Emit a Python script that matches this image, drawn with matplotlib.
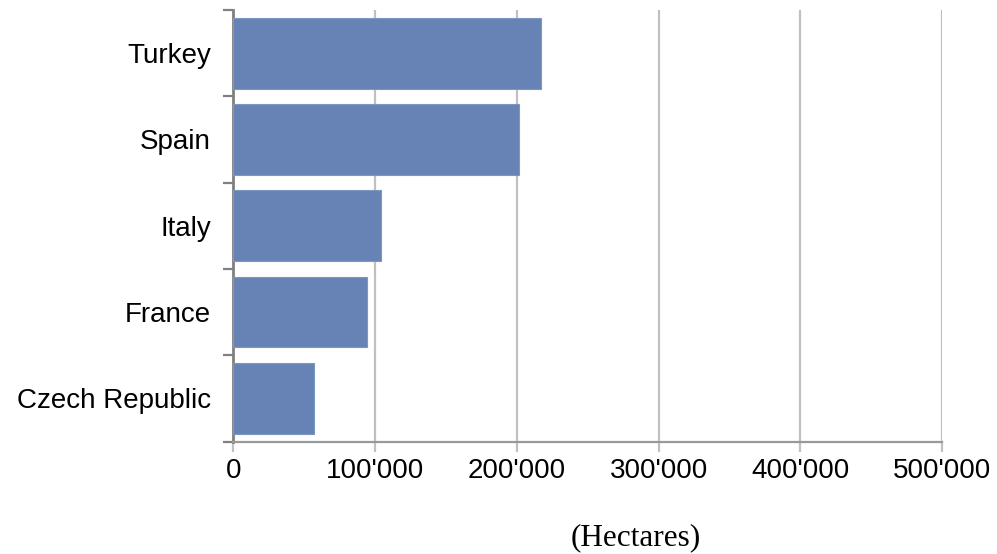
import matplotlib
matplotlib.use("Agg")
import matplotlib.pyplot as plt
from matplotlib.ticker import FuncFormatter, FixedLocator
import numpy as np

countries = ["Czech Republic", "France", "Italy", "Spain", "Turkey"]
hectares = [57000, 94000, 104500, 201500, 217000]
xticks = [0, 100000, 200000, 300000, 400000, 500000]

plt.rcParams['font.family'] = ['Liberation Sans', 'DejaVu Sans']

fig = plt.figure(figsize=(9.97, 5.54), dpi=100)
ax = fig.add_axes([0.234, 0.203, 0.711, 0.779])

y = np.arange(len(countries))
ax.barh(y, hectares, height=0.82, color='#6782b4', edgecolor='#7f96c2', linewidth=0.8, zorder=3)

ax.set_xlim(0, 500000)
ax.set_ylim(-0.5, len(countries) - 0.5)
ax.set_xticks(xticks)
ax.xaxis.set_major_formatter(FuncFormatter(lambda v, p: f"{int(v):,}".replace(",", "'")))
ax.set_yticks(y)
ax.set_yticklabels(countries)
ax.yaxis.set_minor_locator(FixedLocator(np.arange(-0.5, len(countries), 1.0)))

ax.grid(axis='x', color='#c0c0c0', linewidth=1.6, zorder=0)
ax.tick_params(axis='x', length=7, width=1.6, color='#c0c0c0', labelsize=20, pad=5)
ax.tick_params(axis='y', which='major', length=0, labelsize=20, pad=16)
ax.tick_params(axis='y', which='minor', length=7, width=1.6, color='#808080')

for s in ['top', 'right']:
    ax.spines[s].set_visible(False)
ax.spines['left'].set_color('#808080')
ax.spines['left'].set_linewidth(2)
ax.spines['bottom'].set_color('#999999')
ax.spines['bottom'].set_linewidth(1.6)

fig.text(0.638, 0.03, "(Hectares)", ha='center', va='center', fontsize=22.5,
         family=['Liberation Serif', 'DejaVu Serif'])

fig.savefig("out.png", dpi=100)
